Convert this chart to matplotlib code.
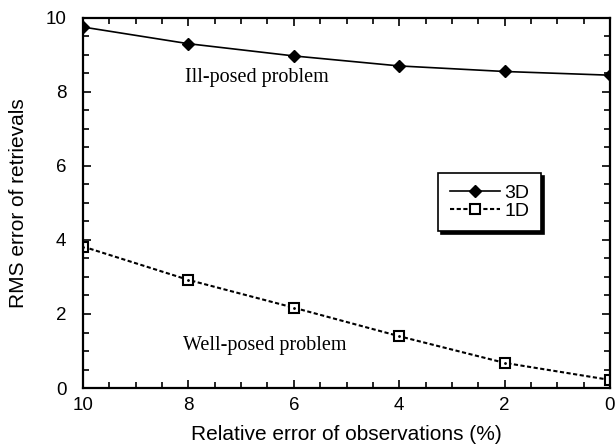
import matplotlib
matplotlib.use("Agg")
import matplotlib.pyplot as plt
from matplotlib.ticker import MultipleLocator

# data
rel_err = [10, 8, 6, 4, 2, 0]
rms_3d = [9.75, 9.3, 8.97, 8.7, 8.55, 8.45]
rms_1d = [3.82, 2.92, 2.17, 1.4, 0.68, 0.22]

plt.rcParams['font.family'] = ['Liberation Sans', 'DejaVu Sans']

fig, ax = plt.subplots(figsize=(6.16, 4.45), dpi=100)
fig.subplots_adjust(left=0.135, right=0.99, top=0.96, bottom=0.128)

ax.plot(rel_err, rms_3d, color='black', lw=1.2, marker='D', ms=6.5,
        mfc='black', mec='black', label='3D')
ax.plot(rel_err, rms_1d, color='black', lw=1.5, ls=(0, (2, 1.2)), marker='s',
        ms=7, mfc='white', mec='black', mew=1.5, label='1D')
# small dot inside the open squares
ax.plot(rel_err, rms_1d, ls='none', marker='.', ms=2, color='black')

ax.set_xlim(10, 0)
ax.set_ylim(0, 10)
ax.xaxis.set_major_locator(MultipleLocator(2))
ax.xaxis.set_minor_locator(MultipleLocator(0.5))
ax.yaxis.set_major_locator(MultipleLocator(2))
ax.yaxis.set_minor_locator(MultipleLocator(0.5))
ax.tick_params(which='both', direction='in', top=True, right=True,
               labelsize=13.5, width=1.2)
ax.tick_params(which='major', length=6)
ax.tick_params(which='minor', length=4)
ax.tick_params(axis='x', which='major', pad=6.5)
ax.tick_params(axis='y', which='major', pad=12)
for s in ax.spines.values():
    s.set_linewidth(1.6)

ax.set_xlabel('Relative error of observations (%)', fontsize=15)
ax.set_ylabel('RMS error of retrievals', fontsize=15)
ax.xaxis.set_label_coords(0.5, -0.1)
ax.yaxis.set_label_coords(-0.104, 0.5)

ax.text(6.7, 8.38, 'Ill-posed problem', fontsize=14.5, ha='center', va='center',
        family='Liberation Serif')
ax.text(6.55, 1.16, 'Well-posed problem', fontsize=14.5, ha='center', va='center',
        family='Liberation Serif')

leg = ax.legend(loc='upper left', bbox_to_anchor=(0.674, 0.581), fontsize=14,
                fancybox=False, shadow={'color': 'black', 'alpha': 1},
                edgecolor='black', framealpha=1,
                handlelength=2.6, borderpad=0.6, labelspacing=0.0,
                handletextpad=0.2, borderaxespad=0)
leg.get_frame().set_linewidth(1.2)

fig.savefig('out.png', dpi=100)
